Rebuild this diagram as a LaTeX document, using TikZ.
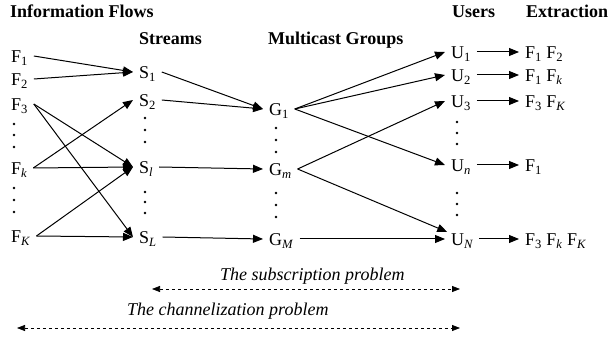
\documentclass[tikz,border=0pt]{standalone}
\usepackage{fontspec}
\setmainfont{Liberation Serif}
\usetikzlibrary{arrows.meta}
\newcommand{\sbn}[1]{\textsubscript{#1}}
\newcommand{\sbi}[1]{\textsubscript{\textit{#1}}}
\begin{document}
\begin{tikzpicture}[x=1pt,y=-1pt,
  every node/.style={font=\fontsize{18}{21}\selectfont},
  lbl/.style={inner xsep=0pt, inner ysep=0pt, outer xsep=6pt, outer ysep=0pt,
              text height=14pt, text depth=0pt, anchor=west},
  hdr/.style={anchor=base west, inner sep=0pt, font=\fontsize{18}{21}\selectfont\bfseries},
  captxt/.style={anchor=base west, inner sep=0pt, font=\fontsize{18}{21}\selectfont\itshape},
  arr/.style={-{Triangle[length=10pt,width=8pt]}, line width=1pt},
  darr/.style={{Triangle[length=8pt,width=6pt]}-{Triangle[length=8pt,width=6pt]},
               line width=0.75pt, dash pattern=on 3.5pt off 2.5pt},
  dotc/.style={fill=black}
]
\useasboundingbox (0,0) rectangle (611,339);

% headers
\node[hdr] (hF) at (10,18) {Information Flows};
\node[hdr] (hS) at (139,45) {Streams};
\node[hdr] (hG) at (268,45) {Multicast Groups};
\node[hdr] (hU) at (452,18) {Users};
\node[hdr] (hE) at (526,18) {Extraction};

% flows
\node[lbl] (F1) at (5,56) {F\sbn{1}};
\node[lbl] (F2) at (5,79) {F\sbn{2}};
\node[lbl] (F3) at (5,104) {F\sbn{3}};
\node[lbl] (Fk) at (5,168) {F\sbi{k}};
\node[lbl] (FK) at (5,236) {F\sbi{K}};

% streams
\node[lbl] (S1) at (133,72) {S\sbn{1}};
\node[lbl] (S2) at (133,100) {S\sbn{2}};
\node[lbl] (Sl) at (133,167) {S\sbi{l}};
\node[lbl] (SL) at (133,237) {S\sbi{L}};

% groups
\node[lbl] (G1) at (263,109) {G\sbn{1}};
\node[lbl] (Gm) at (263,169) {G\sbi{m}};
\node[lbl] (GM) at (263,239) {G\sbi{M}};

% users
\node[lbl] (U1) at (445,52) {U\sbn{1}};
\node[lbl] (U2) at (445,75) {U\sbn{2}};
\node[lbl] (U3) at (445,101) {U\sbn{3}};
\node[lbl] (Un) at (445,165) {U\sbi{n}};
\node[lbl] (UN) at (445,239) {U\sbi{N}};

% extraction
\node[lbl] (E1) at (519,52) {F\sbn{1} F\sbn{2}};
\node[lbl] (E2) at (519,75) {F\sbn{1} F\sbi{k}};
\node[lbl] (E3) at (519,101) {F\sbn{3} F\sbi{K}};
\node[lbl] (En) at (519,165) {F\sbn{1}};
\node[lbl] (EN) at (519,239) {F\sbn{3} F\sbi{k} F\sbi{K}};

% vertical dots
\foreach \x/\a/\b/\c in {14/124/135/147, 14/188/200/212,
                         145/118/130/142, 145/192/202/213,
                         276/128/140/152, 276/193/205/217,
                         457/122/133/144, 457/193/204/215}{
  \fill[dotc] (\x,\a) circle[radius=1.3pt];
  \fill[dotc] (\x,\b) circle[radius=1.3pt];
  \fill[dotc] (\x,\c) circle[radius=1.3pt];
}

% flows -> streams
\draw[arr] (F1.east) -- (S1.west);
\draw[arr] (F2.east) -- (S1.west);
\draw[arr] (F3.east) -- (Sl.west);
\draw[arr] (F3.east) -- (SL.west);
\draw[arr] (Fk.east) -- (S2.west);
\draw[arr] (Fk.east) -- (Sl.west);
\draw[arr] (FK.east) -- (Sl.west);
\draw[arr] (FK.east) -- (SL.west);

% streams -> groups
\draw[arr] (S1.east) -- (G1.west);
\draw[arr] (S2.east) -- (G1.west);
\draw[arr] (Sl.east) -- (Gm.west);
\draw[arr] (SL.east) -- (GM.west);

% groups -> users
\draw[arr] (G1.east) -- (U1.west);
\draw[arr] (G1.east) -- (U2.west);
\draw[arr] (G1.east) -- (Un.west);
\draw[arr] (Gm.east) -- (U3.west);
\draw[arr] (Gm.east) -- (UN.155);
\draw[arr] (GM.east) -- (UN.west);

% users -> extraction
\draw[arr] (U1.east) -- (E1.west);
\draw[arr] (U2.east) -- (E2.west);
\draw[arr] (U3.east) -- (E3.west);
\draw[arr] (Un.east) -- (En.west);
\draw[arr] (UN.east) -- (EN.west);

% problems
\node[captxt] (tS) at (220,281) {The subscription problem};
\coordinate (sA) at (152,289);
\coordinate (sB) at (460,289);
\draw[darr] (sA) -- (sB);
\node[captxt] (tC) at (127,316) {The channelization problem};
\coordinate (cA) at (17,328);
\coordinate (cB) at (460,328);
\draw[darr] (cA) -- (cB);
\end{tikzpicture}
\end{document}
